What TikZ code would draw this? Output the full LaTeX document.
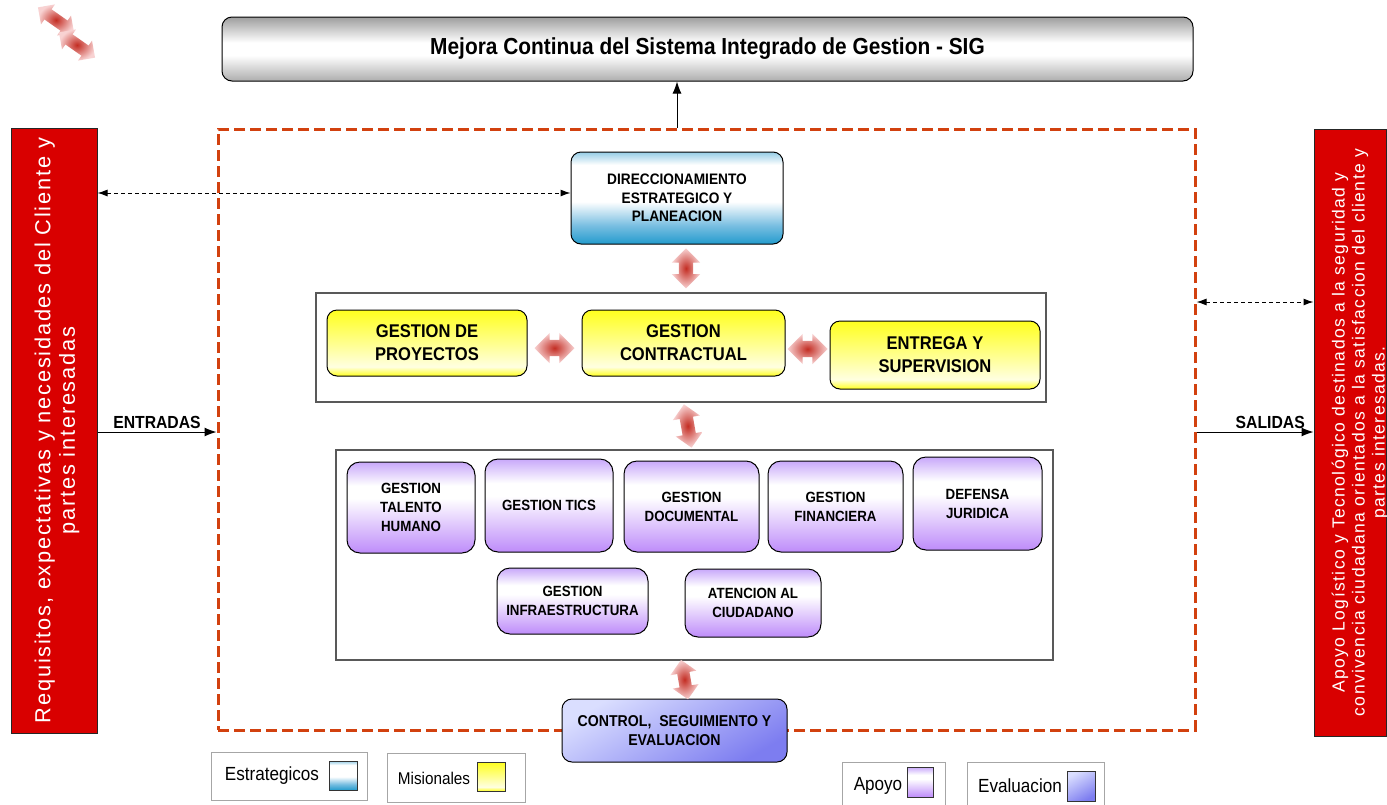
\documentclass[tikz,border=0pt]{standalone}
\usepackage{fontspec}
\setmainfont{Liberation Sans}[FakeStretch=0.9]
\newfontfamily\spacedfont{Liberation Sans}[LetterSpace=8]
\usetikzlibrary{shapes.arrows,arrows.meta,calc}

\definecolor{sigred}{RGB}{217,0,0}
\definecolor{framered}{RGB}{210,65,15}
\definecolor{dirbot}{RGB}{35,155,205}
\definecolor{dirlow}{RGB}{120,190,225}
\definecolor{dirtop}{RGB}{150,205,230}
\definecolor{misyel}{RGB}{255,255,30}
\definecolor{mismid}{RGB}{255,255,150}
\definecolor{mispale}{RGB}{255,255,225}
\definecolor{apobot}{RGB}{190,140,250}
\definecolor{apotop}{RGB}{200,168,250}
\definecolor{evalight}{RGB}{218,222,255}
\definecolor{evadark}{RGB}{125,125,240}
\definecolor{arrred}{RGB}{195,45,35}
\definecolor{arrpale}{RGB}{248,210,210}

\pgfdeclareverticalshading{dirshade}{100bp}{color(0bp)=(dirbot); color(25bp)=(dirbot); color(35bp)=(dirlow); color(48bp)=(white); color(68bp)=(white); color(75bp)=(dirtop); color(100bp)=(dirtop)}
\pgfdeclareverticalshading{misshade}{100bp}{color(0bp)=(misyel); color(25bp)=(misyel); color(32bp)=(mispale); color(48bp)=(mismid); color(75bp)=(misyel); color(100bp)=(misyel)}
\pgfdeclareverticalshading{aposhade}{100bp}{color(0bp)=(apobot); color(25bp)=(apobot); color(55bp)=(white); color(62bp)=(white); color(75bp)=(apotop); color(100bp)=(apotop)}
\pgfdeclareverticalshading{sigshade}{100bp}{color(0bp)=(black!32); color(25bp)=(black!32); color(45bp)=(white); color(55bp)=(white); color(75bp)=(black!38); color(100bp)=(black!38)}

\begin{document}
\begin{tikzpicture}[x=1pt,y=-1pt,
    >={Latex[length=12pt,width=9pt]},
    procbox/.style={draw, line width=1pt, rounded corners=10pt, align=center, inner sep=2pt},
    estbox/.style={procbox, shade, shading=dirshade, font=\fontsize{15.2}{18.5}\selectfont\bfseries},
    misbox/.style={procbox, shade, shading=misshade, font=\fontsize{18.4}{23}\selectfont\bfseries},
    apobox/.style={procbox, rounded corners=13pt, shade, shading=aposhade, font=\fontsize{14.8}{19}\selectfont\bfseries},
    evabox/.style={procbox, top color=evalight, bottom color=evadark, shading angle=30, font=\fontsize{15.7}{19}\selectfont\bfseries},
    groupbox/.style={draw=black!65, line width=1.5pt, inner sep=0pt},
    redbox/.style={draw=black!85, fill=sigred, line width=1pt, inner sep=0pt},
    redtext/.style={rotate=90, text=white, align=center},
    legbox/.style={draw=black!35, line width=1pt, inner sep=0pt},
    legtext/.style={font=\fontsize{19}{22}\selectfont},
    swatch/.style={draw=black!80, line width=1pt, minimum width=28pt, minimum height=29pt, inner sep=0pt},
    dblarrow/.style={double arrow, draw=none, inner sep=0pt, inner ysep=8pt, minimum height=40pt, double arrow head extend=7pt, double arrow head indent=0pt, inner color=arrred, outer color=arrpale},
    dasharr/.style={<->, >={Latex[length=10pt,width=7pt]}, dashed, dash pattern=on 4pt off 3pt, line width=1pt},
    flowlabel/.style={font=\fontsize{17.5}{20}\selectfont\bfseries, inner sep=3pt}]
\useasboundingbox (0,0) rectangle (1387,804);
\fill[white] (0,0) rectangle (1387,804);

\node[dblarrow, inner ysep=6pt, minimum height=44pt, double arrow head extend=6pt, rotate=-35] (icon1) at (56,20) {};
\node[dblarrow, inner ysep=6pt, minimum height=44pt, double arrow head extend=6pt, rotate=-35] (icon2) at (77,45) {};

\node[procbox, shade, shading=sigshade, minimum width=971, minimum height=64, font=\fontsize{23.2}{26}\selectfont\bfseries] (title) at (707.5,49) {Mejora Continua del Sistema Integrado de Gestion - SIG};

\node[draw=framered, line width=3pt, dash pattern=on 11pt off 5pt, minimum width=977, minimum height=601, inner sep=0pt] (sig) at (706.5,429.5) {};

\node[redbox, minimum width=86, minimum height=605] (req) at (54,430.5) {};
\node[redtext, font=\spacedfont\fontsize{21.8}{24.5}\selectfont] at ($(req)+(3,0)$) {Requisitos, expectativas y necesidades del Cliente y\\partes interesadas};
\node[redbox, minimum width=72, minimum height=607] (out) at (1350,432.5) {};
\node[redtext, font=\spacedfont\fontsize{17.5}{20}\selectfont] at ($(out)+(10,0)$) {Apoyo Logístico y Tecnológico destinados a la seguridad y\\convivencia ciudadana orientados a la satisfaccion del cliente y\\partes interesadas.};

\node[estbox, minimum width=212, minimum height=92] (dir) at (677,198) {DIRECCIONAMIENTO\\ESTRATEGICO Y\\PLANEACION};

\node[groupbox, minimum width=730, minimum height=109] (mis) at (681,347.5) {};
\node[misbox, minimum width=200, minimum height=66] (proy) at (427,343) {GESTION DE\\PROYECTOS};
\node[misbox, minimum width=203, minimum height=66] (contr) at (683.5,343) {GESTION\\CONTRACTUAL};
\node[misbox, minimum width=210, minimum height=68] (entr) at (935,355) {ENTREGA Y\\SUPERVISION};

\node[groupbox, minimum width=717, minimum height=210] (apo) at (694.5,555) {};
\node[apobox, minimum width=128, minimum height=91] (tal) at (411,507.5) {GESTION\\TALENTO\\HUMANO};
\node[apobox, minimum width=128, minimum height=93] (tics) at (549,505.5) {GESTION TICS};
\node[apobox, minimum width=135, minimum height=91] (doc) at (691.5,506.5) {GESTION\\DOCUMENTAL};
\node[apobox, minimum width=135, minimum height=91] (fin) at (835.5,506.5) {GESTION\\FINANCIERA};
\node[apobox, minimum width=129, minimum height=93] (def) at (977.5,503.5) {DEFENSA\\JURIDICA};
\node[apobox, minimum width=151, minimum height=66] (infra) at (572.5,601) {GESTION\\INFRAESTRUCTURA};
\node[apobox, minimum width=136, minimum height=68] (aten) at (753,603) {ATENCION AL\\CIUDADANO};

\node[evabox, minimum width=225, minimum height=63] (ctrl) at (674.5,730.5) {CONTROL,\ \ SEGUIMIENTO Y\\EVALUACION};

\node[dblarrow, inner ysep=7pt, rotate=90] at ($(dir.south)!.5!(mis.north)+(7,0)$) {};
\node[dblarrow] at ($(proy.east)!.5!(contr.west)+(0,5)$) {};
\node[dblarrow] at ($(contr.east)!.5!(entr.west)$) {};
\node[dblarrow, inner ysep=6.5pt, minimum height=44pt, rotate=100] at ($(mis.south)!.5!(apo.north)$) {};
\node[dblarrow, inner ysep=6pt, rotate=100] at ($(apo.south)!.5!(ctrl.north)$) {};

\coordinate (dirlev) at (0,193);
\coordinate (outlev) at (0,302);
\coordinate (inlev) at (0,432);
\draw[->, line width=1pt] (dir.north |- sig.north) -- (dir.north |- title.south);
\draw[dasharr] (req.east |- dirlev) -- (dir.west |- dirlev);
\draw[dasharr] (sig.east |- outlev) -- (out.west |- outlev);
\draw[->, line width=1pt] (req.east |- inlev) -- node[above, flowlabel] {ENTRADAS} (sig.west |- inlev);
\draw[->, line width=1pt] (sig.east |- inlev) -- node[above, flowlabel, pos=0.63] {SALIDAS} (out.west |- inlev);

\node[legbox, minimum width=156, minimum height=48] (legest) at (289,776) {};
\node[legtext] at (272,776) {Estrategicos};
\node[swatch, shade, shading=dirshade] at (343,775.5) {};
\node[legbox, minimum width=138, minimum height=49] (legmis) at (456,777.5) {};
\node[legtext, font=\fontsize{17}{20}\selectfont] at (434,778) {Misionales};
\node[swatch, shade, shading=misshade] at (491.5,776.5) {};
\node[legbox, minimum width=103, minimum height=48] (legapo) at (893.5,786) {};
\node[legtext] at (878,786) {Apoyo};
\node[swatch, minimum width=26pt, minimum height=30pt, shade, shading=aposhade] at (920,782) {};
\node[legbox, minimum width=137, minimum height=48] (legeva) at (1035.5,786) {};
\node[legtext] at (1020,786) {Evaluacion};
\node[swatch, minimum height=30pt, top color=evalight, bottom color=evadark, shading angle=30] at (1081,786) {};
\end{tikzpicture}
\end{document}
